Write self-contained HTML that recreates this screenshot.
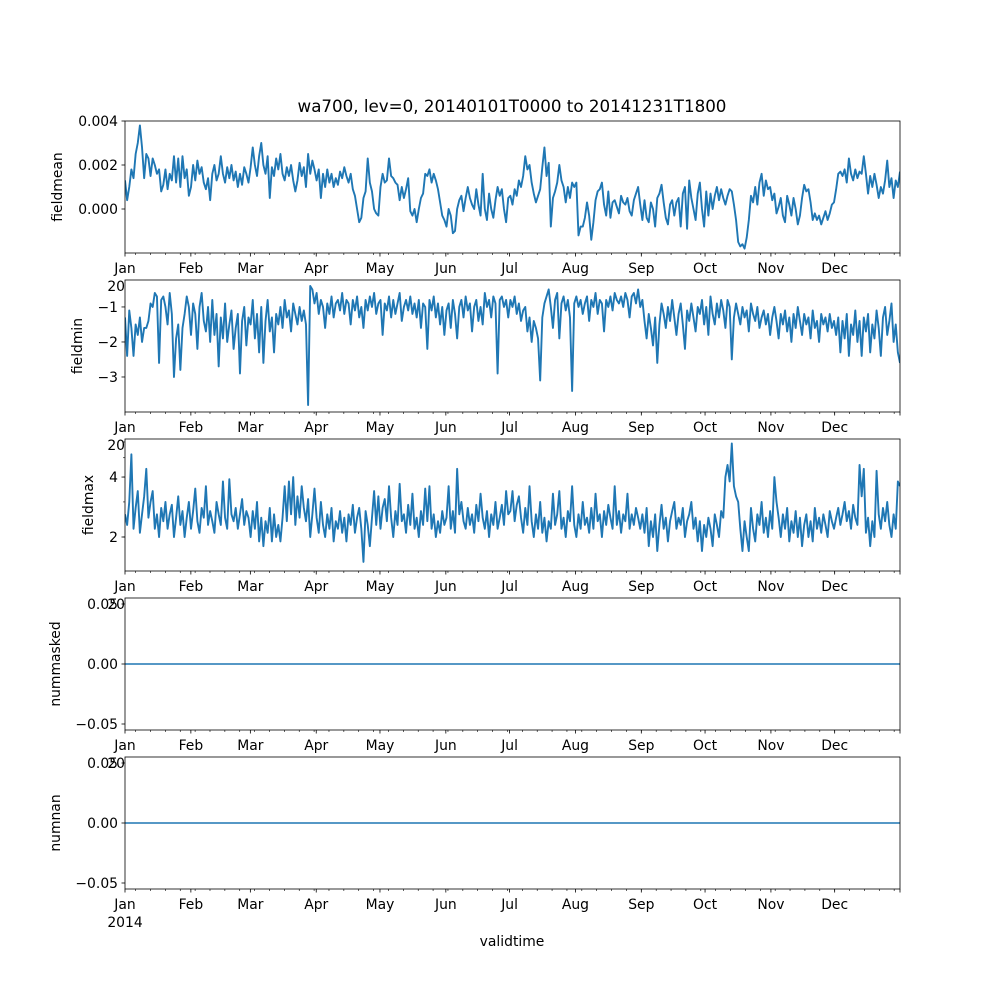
<!DOCTYPE html>
<html><head><meta charset="utf-8"><style>
html,body{margin:0;padding:0;background:#fff}
svg text{font-family:"DejaVu Sans","Liberation Sans",sans-serif;fill:#000}
</style></head><body>
<svg id="chart" width="1000" height="1000" xmlns="http://www.w3.org/2000/svg"></svg>
<script>
const monthLabels=["Jan","Feb","Mar","Apr","May","Jun","Jul","Aug","Sep","Oct","Nov","Dec"];
const monthDays=[0,31,59,90,120,151,181,212,243,273,304,334];
const fieldmean=[1.3,0.4,1.0,1.8,1.4,2.5,3.0,3.8,2.8,1.4,2.5,2.3,1.5,2.3,2.0,1.6,1.8,0.8,1.1,1.8,0.9,1.6,1.3,2.4,1.2,2.3,1.0,2.4,1.4,1.8,0.6,
1.0,2.0,1.3,2.2,1.6,1.9,1.2,0.9,1.4,0.4,1.6,2.0,1.3,1.6,2.4,1.6,1.2,1.9,1.4,2.0,1.3,1.7,1.0,1.6,1.1,1.9,1.6,1.2,
1.9,2.8,2.0,1.5,2.4,3.0,2.0,1.6,2.4,0.5,1.9,1.5,2.3,1.8,2.5,1.6,1.3,1.9,1.5,2.0,1.3,0.8,1.3,2.1,1.5,1.9,1.0,2.5,1.6,2.2,1.8,
1.3,1.8,0.5,1.6,1.0,1.8,1.2,1.6,1.0,1.4,1.1,1.7,1.4,1.9,1.5,1.2,1.6,0.9,0.6,0.0,-0.6,-0.4,0.5,0.8,2.3,1.2,0.8,0.0,-0.2,-0.3,
1.0,1.6,1.2,1.3,2.3,1.5,1.4,1.2,1.1,0.4,1.0,0.5,0.9,1.4,-0.1,-0.3,0.0,-0.6,0.0,0.5,0.7,1.6,1.5,1.8,1.2,1.6,1.3,0.9,0.3,-0.3,-0.5,
-0.8,0.0,-0.3,-1.1,-1.0,0.0,0.4,0.6,-0.1,0.5,1.0,0.5,0.2,0.0,0.9,0.2,-0.3,1.6,0.0,-0.5,0.7,0.0,-0.4,0.4,1.0,0.6,0.9,0.0,-0.6,0.5,
0.6,0.2,0.9,0.6,1.3,1.0,1.5,2.4,1.8,2.0,1.2,0.7,0.3,0.6,0.9,1.9,2.8,1.5,2.1,-0.8,0.5,0.8,1.2,2.0,1.3,1.0,0.3,1.0,0.5,1.2,1.0,
1.2,-1.2,-0.8,-0.8,-0.4,0.3,-0.3,-1.4,-0.6,0.4,0.8,0.9,1.2,0.2,-0.3,0.8,-0.4,0.3,0.4,0.1,-0.2,0.6,0.3,0.2,0.5,-0.1,-0.3,0.4,0.7,1.0,0.2,
-0.5,0.4,-0.4,-0.6,0.3,0.0,-0.8,0.5,0.7,1.1,0.3,-0.4,-0.7,0.2,0.4,-0.3,0.3,0.5,-0.8,0.7,1.0,-0.9,1.3,0.5,0.0,-0.5,0.7,1.2,0.0,-0.8,
0.8,-0.3,0.7,0.0,0.6,1.0,0.4,0.9,0.5,0.2,0.6,0.9,0.8,0.2,-0.5,-1.5,-1.7,-1.6,-1.8,-1.3,-0.5,0.6,0.3,1.0,0.2,1.2,1.6,0.6,1.3,0.9,1.0,
0.4,0.7,-0.2,0.1,0.5,-0.3,-0.6,0.6,0.2,-0.3,0.5,0.0,-0.7,-0.3,0.5,1.1,0.8,0.9,0.3,-0.5,-0.2,-0.5,-0.3,-0.7,-0.4,-0.1,-0.5,-0.2,0.2,0.3,
0.9,1.6,1.7,1.5,1.8,1.2,2.3,1.6,1.3,1.8,1.4,1.7,1.6,2.4,1.6,0.7,1.5,1.0,1.6,1.1,0.5,1.0,0.7,1.3,2.2,1.0,1.4,0.5,1.3,1.0,1.7];
const fieldmin=[-1.3,-2.4,-1.1,-1.6,-2.4,-1.5,-1.8,-1.3,-2.0,-1.6,-1.6,-1.4,-0.9,-1.0,-0.6,-0.7,-2.6,-0.8,-0.7,-1.0,-1.5,-0.6,-1.2,-3.0,-1.9,-1.5,-2.8,-1.6,-1.2,-0.7,-1.0,
-1.8,-0.9,-1.2,-2.2,-1.0,-0.6,-1.4,-1.7,-1.0,-2.0,-0.8,-1.8,-1.2,-2.7,-1.3,-1.9,-0.9,-2.0,-1.5,-1.1,-2.2,-1.6,-1.2,-2.9,-1.4,-1.0,-2.1,-1.3,
-1.5,-0.8,-1.9,-1.2,-2.3,-1.0,-2.6,-1.4,-0.8,-1.7,-1.3,-2.3,-1.2,-1.5,-1.0,-1.6,-0.8,-1.3,-1.1,-1.7,-0.9,-1.2,-1.5,-1.0,-1.4,-1.1,-1.5,-3.8,-0.4,-0.5,-0.9,
-0.6,-1.2,-0.8,-1.0,-1.6,-0.9,-1.2,-0.7,-1.3,-0.9,-0.8,-1.1,-0.6,-1.2,-0.8,-0.9,-1.5,-0.8,-1.1,-0.7,-1.3,-1.0,-1.6,-0.8,-1.1,-0.7,-1.0,-0.6,-1.2,-0.9,
-0.8,-1.8,-0.9,-1.1,-0.7,-1.3,-0.8,-1.2,-0.9,-0.6,-1.4,-1.0,-0.8,-1.1,-0.7,-1.2,-0.9,-1.3,-0.8,-1.6,-0.9,-1.0,-2.2,-0.8,-1.1,-0.7,-1.3,-0.9,-1.5,-1.0,-1.8,
-1.1,-0.9,-1.6,-0.8,-1.2,-1.9,-1.0,-0.8,-1.3,-0.7,-1.1,-0.9,-1.7,-1.0,-0.8,-1.4,-1.0,-1.5,-0.6,-1.0,-0.8,-1.3,-0.7,-0.9,-2.9,-0.8,-0.7,-1.0,-0.8,-1.3,
-0.8,-1.0,-0.7,-1.2,-0.9,-1.4,-1.1,-1.0,-1.7,-1.3,-2.0,-1.4,-1.6,-1.9,-3.1,-1.3,-0.9,-0.7,-0.5,-1.0,-1.6,-0.8,-0.6,-1.9,-0.9,-0.7,-1.1,-0.8,-1.3,-3.4,-0.9,
-0.7,-1.0,-0.8,-1.2,-0.9,-0.7,-1.4,-0.8,-1.0,-0.6,-1.2,-0.8,-0.9,-1.7,-0.8,-1.0,-0.7,-1.1,-0.6,-0.8,-0.9,-0.7,-1.0,-0.6,-0.8,-1.3,-0.7,-0.6,-0.9,-0.5,-1.0,
-0.8,-1.4,-1.9,-1.2,-1.6,-2.1,-1.3,-2.6,-1.5,-0.9,-1.2,-1.6,-1.0,-1.4,-0.8,-1.3,-1.8,-1.2,-0.9,-1.5,-2.2,-1.1,-1.4,-0.9,-1.3,-1.7,-1.0,-1.2,-0.8,-1.5,
-1.0,-1.8,-0.7,-1.2,-1.5,-0.9,-1.3,-0.8,-1.1,-1.6,-0.8,-1.0,-2.5,-1.3,-0.9,-1.2,-1.5,-1.0,-1.3,-1.1,-1.7,-0.9,-1.2,-1.4,-1.0,-1.6,-1.3,-1.1,-1.5,-1.2,-1.8,
-1.3,-1.0,-1.4,-1.9,-1.2,-1.5,-1.1,-1.7,-1.3,-2.0,-1.2,-1.6,-1.0,-1.4,-1.8,-1.2,-1.5,-1.3,-1.9,-1.1,-1.6,-1.4,-2.0,-1.2,-1.5,-1.3,-1.7,-1.2,-1.6,-1.4,
-1.8,-1.3,-2.3,-1.4,-1.9,-1.2,-2.4,-1.5,-1.8,-1.1,-2.0,-1.4,-2.4,-1.3,-1.7,-1.2,-2.3,-1.5,-1.9,-1.1,-1.6,-2.4,-1.3,-1.0,-1.8,-1.4,-0.9,-2.0,-1.5,-2.3,-2.6];
const fieldmax=[2.6,2.3,3.0,5.2,2.2,2.8,3.4,2.1,2.6,3.2,4.4,2.5,3.0,3.4,2.2,2.6,2.0,2.8,2.4,3.0,2.2,2.6,2.9,2.0,2.5,3.2,2.3,2.7,2.0,2.5,3.0,
2.2,2.7,3.5,2.4,2.1,2.8,2.5,3.6,2.3,2.7,2.4,2.1,3.0,2.6,2.3,3.8,2.5,2.2,3.9,2.6,2.4,2.8,2.2,2.6,3.1,2.3,2.7,2.5,
2.0,2.7,2.2,3.0,1.9,2.5,1.8,2.4,2.1,2.8,1.9,2.6,2.0,2.3,1.9,2.5,3.6,2.4,3.8,2.6,4.0,2.3,3.2,2.5,3.6,2.8,2.4,3.1,2.0,2.6,3.5,
2.5,2.1,3.0,2.3,2.0,2.6,2.2,2.8,1.9,2.4,2.2,2.7,2.1,2.5,1.9,2.6,2.3,2.9,2.1,2.5,2.8,2.2,1.5,2.7,2.3,1.8,2.5,3.4,2.3,3.2,
2.2,2.8,3.1,2.4,3.6,2.5,2.0,2.7,2.3,3.7,2.4,2.6,2.1,2.9,2.3,3.3,2.2,2.5,2.0,2.7,2.3,3.5,2.4,3.6,2.2,2.6,2.0,2.4,2.1,2.7,2.3,
2.5,3.6,2.2,2.7,2.1,4.4,2.6,3.0,2.4,2.2,2.8,2.3,2.6,2.1,2.9,2.4,3.3,2.5,2.2,2.7,2.0,2.6,2.3,3.0,2.2,2.5,2.9,2.3,3.4,2.6,
2.7,3.4,2.4,2.9,3.2,2.5,2.1,2.8,2.3,3.6,2.4,2.0,2.6,2.2,3.0,2.1,2.5,1.9,2.4,2.2,3.3,2.3,2.6,3.4,2.2,2.5,2.0,2.7,2.4,3.6,2.3,
2.0,2.6,2.2,3.0,2.3,2.5,2.1,2.8,2.2,3.3,2.4,2.6,2.0,2.7,2.3,2.9,2.5,2.2,3.6,2.3,2.7,2.1,2.6,2.4,3.3,2.2,2.6,2.3,2.8,2.5,2.2,
2.6,2.1,2.8,1.8,2.4,2.0,2.6,1.7,2.3,2.9,2.2,2.5,1.9,2.4,2.7,3.0,2.2,2.5,2.3,2.8,2.0,2.4,2.6,3.0,2.2,2.5,1.9,2.4,1.7,2.3,
2.0,2.5,2.2,1.8,2.6,2.3,2.0,2.7,2.5,4.0,4.6,3.8,5.9,3.6,3.2,3.0,2.2,1.7,2.4,2.0,1.7,2.8,2.2,1.9,2.6,2.3,3.0,2.1,2.5,2.0,2.7,
2.2,4.0,3.0,2.5,2.0,2.6,2.2,2.8,1.9,2.4,2.1,2.7,2.0,2.5,1.8,2.3,2.6,2.0,2.4,1.9,2.8,2.2,2.5,2.1,2.6,2.3,2.0,2.7,2.4,2.2,
2.5,2.8,2.3,2.6,3.0,2.4,2.7,2.2,2.9,2.5,2.3,4.6,3.2,4.4,2.1,2.5,1.8,2.4,2.0,4.3,2.6,2.2,2.8,2.4,3.0,2.3,2.0,2.6,2.2,3.8,3.6];
const nummasked=[0,0];
const numnan=[0,0];
const meanTicks=[0.004,0.002,0.000];
const meanTickLabels=["0.004","0.002","0.000"];
const minTicks=[-1,-2,-3];
const minTickLabels=["\u22121","\u22122","\u22123"];
const maxTicks=[2,4];
const maxTickLabels=["2","4"];
const zeroTicks=[0.05,0,-0.05];
const zeroTickLabels=["0.05","0.00","\u22120.05"];

const NS="http://www.w3.org/2000/svg";
const svg=document.getElementById('chart');
const X0=125,X1=900,SPAN=364.75;
function xs(d){return X0+(d/SPAN)*(X1-X0);}
function mk(tag,attrs,parent){const e=document.createElementNS(NS,tag);for(const k in attrs)e.setAttribute(k,attrs[k]);(parent||svg).appendChild(e);return e;}

const panels=[
 {name:'fieldmean',top:121,data:fieldmean,scale:0.001,min:-0.002,max:0.004,log:false,ticks:meanTicks,labels:meanTickLabels,lx:62},
 {name:'fieldmin',top:280,data:fieldmin,scale:1,min:-4.0,max:-0.23,log:false,ticks:minTicks,labels:minTickLabels,lx:82},
 {name:'fieldmax',top:439,data:fieldmax,scale:1,min:1.35,max:6.21,log:true,ticks:maxTicks,labels:maxTickLabels,minor:[2,3,4,5,6],lx:93},
 {name:'nummasked',top:598,data:nummasked,scale:1,min:-0.055,max:0.055,log:false,ticks:zeroTicks,labels:zeroTickLabels,lx:60},
 {name:'numnan',top:757,data:numnan,scale:1,min:-0.055,max:0.055,log:false,ticks:zeroTicks,labels:zeroTickLabels,lx:60}
];
const H=132;
panels.forEach((p,pi)=>{
 const g=mk('g',{});
 
 
 const bg=mk('rect',{x:X0,y:p.top,width:X1-X0,height:H,fill:'#fff'},g);
 
 
 const f=p.log?Math.log10:(v=>v);
 const ys=v=>p.top+H-(f(v)-f(p.min))/(f(p.max)-f(p.min))*H;
 const clipId='clip'+pi;
 const cp=mk('clipPath',{id:clipId},g);mk('rect',{x:X0,y:p.top,width:X1-X0,height:H},cp);
 let dstr='';const n=p.data.length;
 p.data.forEach((v,i)=>{const x=xs(i*SPAN/(n-1)),y=ys(v*p.scale);dstr+=(i?'L':'M')+x.toFixed(2)+' '+y.toFixed(2);});
 const line=mk('path',{d:dstr,fill:'none',stroke:'#1f77b4','stroke-width':(n>2?1.9:1.5),'stroke-linejoin':'round','clip-path':'url(#'+clipId+')'},g);
 
 
 const frame=mk('rect',{x:X0,y:p.top,width:X1-X0,height:H,fill:'none',stroke:'#000','stroke-width':0.8},g);
 
 
 if(p.minor){p.minor.forEach(v=>{const y=ys(v);mk('line',{x1:X0-2,x2:X0,y1:y,y2:y,stroke:'#000','stroke-width':0.6},g);});}
 p.ticks.forEach((v,i)=>{const y=ys(v);mk('line',{x1:X0-3.5,x2:X0,y1:y,y2:y,stroke:'#000','stroke-width':0.8},g);
  const t=mk('text',{x:X0-7,y:y+5,'text-anchor':'end','font-size':'13.9px'},g);t.textContent=p.labels[i];
  
  });
 const yl=mk('text',{x:p.lx,y:p.top+H/2,'text-anchor':'middle','font-size':'13.9px',transform:'rotate(-90 '+p.lx+' '+(p.top+H/2)+')'},g);
 yl.textContent=p.name;
 
 
 const by=p.top+H;
 for(let d=5;d<SPAN;d+=7){const x=xs(d);mk('line',{x1:x,x2:x,y1:by,y2:by+2,stroke:'#000','stroke-width':0.6},g);}
 monthDays.forEach((d,i)=>{const x=xs(d);mk('line',{x1:x,x2:x,y1:by,y2:by+3.5,stroke:'#000','stroke-width':0.8},g);
  const t=mk('text',{x:x,y:by+20,'text-anchor':'middle','font-size':'13.9px'},g);t.textContent=monthLabels[i];
  
  });
 mk('line',{x1:X1,x2:X1,y1:by,y2:by+3.5,stroke:'#000','stroke-width':0.8},g);
 const yr=mk('text',{x:X0,y:by+38,'text-anchor':'middle','font-size':'13.9px'},g);yr.textContent='2014';
 
 
});
const title=mk('text',{x:512,y:112,'text-anchor':'middle','font-size':'16.7px'});
title.textContent='wa700, lev=0, 20140101T0000 to 20141231T1800';


const xl=mk('text',{x:512,y:946,'text-anchor':'middle','font-size':'13.9px'});
xl.textContent='validtime';


</script>
</body></html>
